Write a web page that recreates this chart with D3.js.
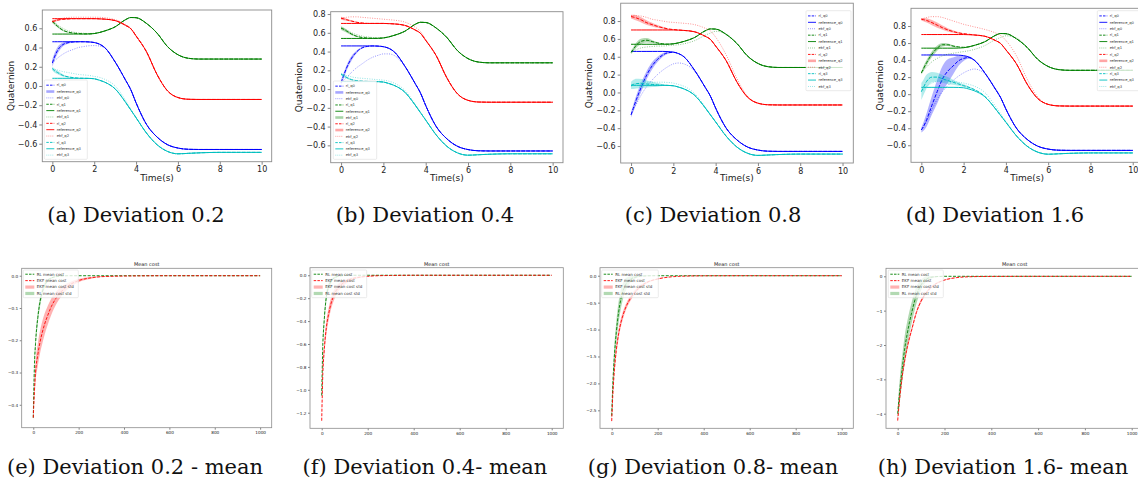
<!DOCTYPE html>
<html>
<head>
<meta charset="utf-8">
<script src="https://cdn.jsdelivr.net/npm/d3@7"></script>
<style>
  body { margin: 0; background: #fff; }
  svg { display: block; }
</style>
</head>
<body>
<svg id="fig" width="1138" height="481"></svg>
<script>
// ---------- Quaternion tracking data (time in seconds) ----------
const timeGrid = [0, 0.1, 0.25, 0.5, 0.75, 1, 1.25, 1.5, 1.75, 2, 2.25, 2.5, 3, 3.5, 3.75, 4, 4.5, 5, 5.5, 6, 6.5, 7, 8, 9, 10];

// reference attitude (same for every deviation level)
const refQ0 = [.46,.46,.46,.46,.46,.46,.46,.46,.458,.452,.435,.40, .25,.06,-.04,-.175,-.40,-.53,-.61,-.645,-.658,-.66,-.66,-.66,-.66];
const refQ1 = [.54,.54,.54,.54,.54,.54,.54,.54,.541,.545,.556,.572, .615,.69,.712,.71,.65,.55,.41,.325,.288,.28,.28,.28,.28];
const refQ2 = [.70,.70,.70,.70,.70,.70,.70,.70,.70,.70,.698,.695, .68,.63,.595,.52,.355,.12,-.05,-.12,-.138,-.14,-.14,-.14,-.14];
const refQ3 = [.08,.08,.08,.08,.08,.08,.08,.08,.079,.075,.06,.04, -.03,-.17,-.25,-.33,-.49,-.61,-.68,-.705,-.70,-.695,-.69,-.69,-.69];

// deviation 0.2
const rlQ0Dev02  = [.24,.30,.37,.43,.45,.458,.46,.46,.458,.452,.435,.40, .25,.06,-.04,-.175,-.40,-.53,-.61,-.645,-.658,-.66,-.66,-.66,-.66];
const ekfQ0Dev02 = [.24,.26,.29,.33,.36,.38,.40,.41,.418,.42,.415,.395, .25,.06,-.04,-.175,-.40,-.53,-.61,-.645,-.658,-.66,-.66,-.66,-.66];
const sdQ0Dev02  = [.04,.04,.035,.02,.01,.005,.002,0,0,0,0,0, 0,0,0,0,0,0,0,0,0,0,0,0,0];
const rlQ1Dev02  = [.67,.65,.62,.58,.56,.55,.545,.542,.541,.545,.556,.572, .615,.69,.712,.71,.65,.55,.41,.325,.288,.28,.28,.28,.28];
const ekfQ1Dev02 = [.67,.66,.635,.60,.575,.56,.552,.548,.546,.548,.556,.572, .615,.69,.712,.71,.65,.55,.41,.325,.288,.28,.28,.28,.28];
const sdQ1Dev02  = [.015,.015,.012,.008,.005,.003,0,0,0,0,0,0, 0,0,0,0,0,0,0,0,0,0,0,0,0];
const rlQ2Dev02  = [.67,.675,.685,.693,.697,.70,.70,.70,.70,.70,.698,.695, .68,.63,.595,.52,.355,.12,-.05,-.12,-.138,-.14,-.14,-.14,-.14];
const ekfQ2Dev02 = [.67,.68,.69,.705,.712,.715,.715,.715,.715,.715,.714,.71, .69,.64,.60,.525,.355,.12,-.05,-.12,-.138,-.14,-.14,-.14,-.14];
const sdQ2Dev02  = [.015,.012,.01,.005,.002,0,0,0,0,0,0,0, 0,0,0,0,0,0,0,0,0,0,0,0,0];
const rlQ3Dev02  = [.18,.16,.14,.11,.095,.087,.082,.08,.079,.075,.06,.04, -.03,-.17,-.25,-.33,-.49,-.61,-.68,-.705,-.70,-.695,-.69,-.69,-.69];
const ekfQ3Dev02 = [.18,.175,.165,.15,.14,.13,.12,.115,.11,.10,.09,.07, 0,-.15,-.24,-.325,-.49,-.61,-.68,-.705,-.70,-.695,-.69,-.69,-.69];
const sdQ3Dev02  = [.02,.02,.018,.012,.006,.003,0,0,0,0,0,0, 0,0,0,0,0,0,0,0,0,0,0,0,0];

// deviation 0.4
const rlQ0Dev04  = [.07,.13,.22,.33,.40,.44,.455,.46,.458,.452,.435,.40, .25,.06,-.04,-.175,-.40,-.53,-.61,-.645,-.658,-.66,-.66,-.66,-.66];
const ekfQ0Dev04 = [.07,.09,.12,.18,.23,.27,.31,.34,.36,.375,.375,.36, .245,.06,-.04,-.175,-.40,-.53,-.61,-.645,-.658,-.66,-.66,-.66,-.66];
const sdQ0Dev04  = [.03,.03,.03,.025,.015,.008,.004,0,0,0,0,0, 0,0,0,0,0,0,0,0,0,0,0,0,0];
const rlQ1Dev04  = [.65,.64,.62,.585,.562,.55,.545,.542,.541,.545,.556,.572, .615,.69,.712,.71,.65,.55,.41,.325,.288,.28,.28,.28,.28];
const ekfQ1Dev04 = [.65,.645,.63,.60,.58,.565,.556,.55,.548,.549,.556,.572, .615,.69,.712,.71,.65,.55,.41,.325,.288,.28,.28,.28,.28];
const sdQ1Dev04  = [.02,.02,.018,.012,.006,.003,0,0,0,0,0,0, 0,0,0,0,0,0,0,0,0,0,0,0,0];
const rlQ2Dev04  = [.755,.75,.74,.725,.712,.705,.70,.70,.70,.70,.698,.695, .68,.63,.595,.52,.355,.12,-.05,-.12,-.138,-.14,-.14,-.14,-.14];
const ekfQ2Dev04 = [.755,.76,.765,.77,.77,.765,.76,.755,.75,.745,.74,.735, .715,.66,.615,.53,.355,.12,-.05,-.12,-.138,-.14,-.14,-.14,-.14];
const sdQ2Dev04  = [.015,.015,.012,.008,.004,.002,0,0,0,0,0,0, 0,0,0,0,0,0,0,0,0,0,0,0,0];
const rlQ3Dev04  = [.16,.145,.125,.10,.09,.085,.082,.08,.079,.075,.06,.04, -.03,-.17,-.25,-.33,-.49,-.61,-.68,-.705,-.70,-.695,-.69,-.69,-.69];
const ekfQ3Dev04 = [.16,.155,.145,.13,.12,.115,.11,.105,.10,.095,.085,.065, -.01,-.16,-.245,-.33,-.49,-.61,-.68,-.705,-.70,-.695,-.69,-.69,-.69];
const sdQ3Dev04  = [.015,.015,.012,.008,.004,.002,0,0,0,0,0,0, 0,0,0,0,0,0,0,0,0,0,0,0,0];

// deviation 0.8
const rlQ0Dev08  = [-.25,-.18,-.08,.07,.20,.30,.37,.42,.445,.45,.435,.40, .25,.06,-.04,-.175,-.40,-.53,-.61,-.645,-.658,-.66,-.66,-.66,-.66];
const ekfQ0Dev08 = [-.25,-.20,-.13,-.02,.07,.14,.20,.25,.29,.32,.33,.32, .24,.055,-.04,-.175,-.40,-.53,-.61,-.645,-.658,-.66,-.66,-.66,-.66];
const sdQ0Dev08  = [.03,.04,.05,.05,.045,.04,.03,.02,.01,.005,0,0, 0,0,0,0,0,0,0,0,0,0,0,0,0];
const rlQ1Dev08  = [.45,.48,.53,.575,.585,.57,.555,.545,.541,.545,.556,.572, .615,.69,.712,.71,.65,.55,.41,.325,.288,.28,.28,.28,.28];
const ekfQ1Dev08 = [.45,.46,.48,.50,.51,.515,.52,.52,.525,.53,.535,.545, .58,.64,.665,.685,.655,.55,.41,.325,.288,.28,.28,.28,.28];
const sdQ1Dev08  = [.02,.025,.03,.03,.025,.015,.008,.004,0,0,0,0, 0,0,0,0,0,0,0,0,0,0,0,0,0];
const rlQ2Dev08  = [.85,.845,.835,.81,.78,.76,.74,.725,.712,.705,.70,.695, .68,.63,.595,.52,.355,.12,-.05,-.12,-.138,-.14,-.14,-.14,-.14];
const ekfQ2Dev08 = [.86,.86,.86,.855,.84,.82,.81,.80,.79,.785,.78,.775, .76,.72,.69,.62,.42,.16,-.04,-.12,-.138,-.14,-.14,-.14,-.14];
const sdQ2Dev08  = [.02,.025,.03,.03,.025,.02,.015,.01,.006,.003,0,0, 0,0,0,0,0,0,0,0,0,0,0,0,0];
const rlQ3Dev08  = [.08,.09,.10,.10,.095,.09,.085,.082,.079,.075,.06,.04, -.03,-.17,-.25,-.33,-.49,-.61,-.68,-.705,-.70,-.695,-.69,-.69,-.69];
const ekfQ3Dev08 = [.07,.08,.095,.11,.115,.115,.115,.115,.112,.105,.09,.07, -.01,-.16,-.245,-.33,-.49,-.61,-.68,-.705,-.70,-.695,-.69,-.69,-.69];
const sdQ3Dev08  = [.04,.05,.055,.05,.04,.03,.02,.01,.005,0,0,0, 0,0,0,0,0,0,0,0,0,0,0,0,0];

// deviation 1.6
const rlQ0Dev16  = [-.42,-.38,-.30,-.13,.03,.18,.27,.33,.39,.42,.43,.40, .25,.06,-.04,-.175,-.40,-.53,-.61,-.645,-.658,-.66,-.66,-.66,-.66];
const ekfQ0Dev16 = [-.42,-.38,-.32,-.18,-.06,.03,.10,.16,.21,.25,.28,.295, .24,.07,-.035,-.175,-.40,-.53,-.61,-.645,-.658,-.66,-.66,-.66,-.66];
const sdQ0Dev16  = [.03,.05,.08,.11,.14,.15,.14,.10,.06,.03,.015,.005, 0,0,0,0,0,0,0,0,0,0,0,0,0];
const rlQ1Dev16  = [.25,.30,.37,.47,.54,.58,.58,.565,.555,.55,.556,.572, .615,.69,.712,.71,.65,.55,.41,.325,.288,.28,.28,.28,.28];
const ekfQ1Dev16 = [.25,.28,.32,.38,.42,.45,.47,.48,.49,.50,.51,.525, .57,.64,.665,.685,.66,.55,.41,.325,.288,.28,.28,.28,.28];
const sdQ1Dev16  = [.02,.03,.035,.035,.03,.02,.015,.01,.005,0,0,0, 0,0,0,0,0,0,0,0,0,0,0,0,0];
const rlQ2Dev16  = [.88,.875,.865,.84,.81,.78,.755,.735,.72,.71,.703,.695, .68,.63,.595,.52,.355,.12,-.05,-.12,-.138,-.14,-.14,-.14,-.14];
const ekfQ2Dev16 = [.88,.89,.90,.91,.91,.90,.88,.86,.84,.82,.805,.79, .76,.72,.69,.63,.45,.18,-.03,-.12,-.138,-.14,-.14,-.14,-.14];
const sdQ2Dev16  = [.015,.02,.025,.03,.03,.025,.02,.015,.01,.005,0,0, 0,0,0,0,0,0,0,0,0,0,0,0,0];
const rlQ3Dev16  = [.03,.08,.15,.20,.20,.18,.16,.14,.12,.10,.08,.055, -.025,-.17,-.25,-.33,-.49,-.61,-.68,-.705,-.70,-.695,-.69,-.69,-.69];
const ekfQ3Dev16 = [.03,.05,.09,.13,.15,.155,.155,.15,.14,.13,.115,.095, .02,-.14,-.23,-.32,-.49,-.61,-.68,-.705,-.70,-.695,-.69,-.69,-.69];
const sdQ3Dev16  = [.10,.09,.08,.06,.05,.045,.04,.03,.02,.015,.01,.005, 0,0,0,0,0,0,0,0,0,0,0,0,0];

const timeTicks = [0, 2, 4, 6, 8, 10];
const quatTicksA = [-0.6, -0.4, -0.2, 0, 0.2, 0.4, 0.6];
const quatTicksB = [-0.6, -0.4, -0.2, 0, 0.2, 0.4, 0.6, 0.8];
const quatLegendLabels = ["rl_q0","reference_q0","ekf_q0","rl_q1","reference_q1","ekf_q1","rl_q2","reference_q2","ekf_q2","rl_q3","reference_q3","ekf_q3"];

// ---------- Mean cost over training episodes ----------
const episodes = [0, 5, 10, 20, 30, 40, 50, 60, 80, 100, 125, 150, 200, 250, 300, 400, 600, 800, 1000];

const ekfCostDev02   = [-.44,-.36,-.30,-.245,-.205,-.175,-.15,-.13,-.095,-.07,-.048,-.033,-.015,-.007,-.003,-.001,0,0,0];
const ekfCostSdDev02 = [.01,.02,.03,.035,.035,.035,.033,.03,.025,.02,.015,.01,.005,.003,.001,0,0,0,0];
const rlCostDev02    = [-.44,-.28,-.21,-.13,-.08,-.05,-.03,-.018,-.007,-.003,-.001,0,0,0,0,0,0,0,0];
const rlCostSdDev02  = [.01,.02,.02,.018,.015,.012,.008,.005,.002,.001,0,0,0,0,0,0,0,0,0];

const ekfCostDev04   = [-1.27,-.85,-.68,-.46,-.34,-.25,-.19,-.145,-.09,-.06,-.035,-.022,-.009,-.004,-.002,0,0,0,0];
const ekfCostSdDev04 = [.02,.05,.06,.06,.055,.05,.045,.04,.03,.02,.012,.008,.003,.001,0,0,0,0,0];
const rlCostDev04    = [-1.05,-.6,-.42,-.19,-.10,-.055,-.03,-.017,-.006,-.002,0,0,0,0,0,0,0,0,0];
const rlCostSdDev04  = [.03,.05,.05,.04,.03,.02,.012,.008,.003,.001,0,0,0,0,0,0,0,0,0];

const ekfCostDev08   = [-2.7,-2.2,-1.85,-1.38,-1.08,-.87,-.72,-.6,-.43,-.31,-.2,-.13,-.06,-.025,-.01,-.002,0,0,0];
const ekfCostSdDev08 = [.05,.08,.1,.1,.09,.08,.07,.06,.05,.04,.03,.02,.01,.005,.002,0,0,0,0];
const rlCostDev08    = [-2.6,-2.0,-1.6,-1.05,-.68,-.43,-.27,-.17,-.07,-.03,-.01,-.003,0,0,0,0,0,0,0];
const rlCostSdDev08  = [.1,.15,.18,.2,.2,.18,.15,.12,.06,.03,.01,.005,0,0,0,0,0,0,0];

const ekfCostDev16   = [-4.2,-3.8,-3.45,-2.88,-2.45,-2.1,-1.8,-1.55,-1.05,-.72,-.45,-.28,-.11,-.04,-.015,-.003,0,0,0];
const ekfCostSdDev16 = [.05,.08,.1,.1,.1,.09,.08,.07,.06,.05,.04,.03,.015,.006,.002,0,0,0,0];
const rlCostDev16    = [-4.0,-3.6,-3.25,-2.65,-2.1,-1.7,-1.35,-1.05,-.55,-.25,-.07,-.02,0,0,0,0,0,0,0];
const rlCostSdDev16  = [.15,.3,.35,.38,.38,.36,.33,.3,.25,.15,.07,.03,0,0,0,0,0,0,0];

const episodeTicks = [0, 200, 400, 600, 800, 1000];
const costLegendLabels = ["RL mean cost", "EKF mean cost", "EKF mean cost std", "RL mean cost std"];

const captionsTop = ["(a) Deviation 0.2", "(b) Deviation 0.4", "(c) Deviation 0.8", "(d) Deviation 1.6"];
const captionsBottom = ["(e) Deviation 0.2 - mean", "(f) Deviation 0.4- mean", "(g) Deviation 0.8- mean", "(h) Deviation 1.6- mean"];

// ---------- drawing ----------
const svg = d3.select("#fig");
const FONT = "DejaVu Sans, sans-serif";
const qColors = ["#0000ff", "#008000", "#ff0000", "#00bfbf"];
const frameColor = "#8c8c8c";
let clipCount = 0;

function addClip(x0, y0, x1, y1) {
  const id = "clip" + (clipCount++);
  svg.append("clipPath").attr("id", id).append("rect")
    .attr("x", x0).attr("y", y0).attr("width", x1 - x0).attr("height", y1 - y0);
  return `url(#${id})`;
}

function styleAxis(sel, fs) {
  sel.select(".domain").remove();
  sel.selectAll(".tick line").attr("stroke", "#333").attr("stroke-width", 0.6);
  sel.selectAll(".tick text").attr("fill", "#222").style("font-family", FONT).style("font-size", fs + "px");
}

function drawQuatPanel(p) {
  const [x0, y0, x1, y1] = p.box;
  const x = d3.scaleLinear().domain(p.xDomain).range([x0, x1]);
  const y = d3.scaleLinear().domain(p.yDomain).range([y1, y0]);
  const g = svg.append("g");
  const plot = g.append("g").attr("clip-path", addClip(x0, y0, x1, y1));

  const line = d3.line().x((d, i) => x(timeGrid[i])).y(d => y(d)).curve(d3.curveMonotoneX);
  const area = d3.area().x((d, i) => x(timeGrid[i]))
    .y0((d, i) => y(d.m - d.s)).y1((d, i) => y(d.m + d.s)).curve(d3.curveMonotoneX);

  p.series.forEach((s, k) => {
    const c = qColors[k];
    const band = s.rl.map((m, i) => ({ m, s: s.sd[i] }));
    plot.append("path").attr("d", area(band)).attr("fill", c).attr("fill-opacity", 0.3);
    plot.append("path").attr("d", line(s.ekf)).attr("fill", "none").attr("stroke", c)
      .attr("stroke-width", 0.8).attr("stroke-opacity", 0.55).attr("stroke-dasharray", "1,1.4");
    plot.append("path").attr("d", line(s.ref)).attr("fill", "none").attr("stroke", c)
      .attr("stroke-width", 1.0);
    plot.append("path").attr("d", line(s.rl)).attr("fill", "none").attr("stroke", c)
      .attr("stroke-width", 1.0).attr("stroke-dasharray", "3.5,1.5");
  });

  const ax = g.append("g").attr("transform", `translate(0,${y1})`)
    .call(d3.axisBottom(x).tickValues(timeTicks).tickSize(3).tickPadding(2).tickFormat(d3.format("d")));
  styleAxis(ax, 8);
  const ay = g.append("g").attr("transform", `translate(${x0},0)`)
    .call(d3.axisLeft(y).tickValues(p.yTicks).tickSize(3).tickPadding(2).tickFormat(d3.format(".1f")));
  styleAxis(ay, 8);

  g.append("rect").attr("x", x0).attr("y", y0).attr("width", x1 - x0).attr("height", y1 - y0)
    .attr("fill", "none").attr("stroke", frameColor).attr("stroke-width", 0.9);

  g.append("text").attr("x", (x(0) + x(10)) / 2).attr("y", 181)
    .attr("text-anchor", "middle").style("font-family", FONT).style("font-size", "9px").attr("fill", "#222")
    .text("Time(s)");
  g.append("text").attr("transform", `translate(${p.ylabelX},${(y0 + y1) / 2}) rotate(-90)`)
    .attr("text-anchor", "middle").style("font-family", FONT).style("font-size", "9px").attr("fill", "#222")
    .text("Quaternion");

  // legend
  const L = p.legend;
  const lg = g.append("g");
  lg.append("rect").attr("x", L.x).attr("y", L.y).attr("width", L.w).attr("height", L.h)
    .attr("rx", 1).attr("fill", "#fff").attr("fill-opacity", 0.8).attr("stroke", "#d6d6d6").attr("stroke-width", 0.5);
  const step = (L.h - 3) / quatLegendLabels.length;
  quatLegendLabels.forEach((lab, i) => {
    const cy = L.y + 2 + step * (i + 0.5);
    const c = qColors[Math.floor(i / 3)];
    const kind = i % 3;
    const h = lg.append("line").attr("x1", L.x + 2).attr("x2", L.x + 10).attr("y1", cy).attr("y2", cy).attr("stroke", c);
    if (p.thickEntries.includes(lab)) {
      h.attr("stroke-width", 2.6).attr("stroke-opacity", 0.35);
    } else if (kind === 0) {
      h.attr("stroke-width", 0.9).attr("stroke-dasharray", "2.5,1.2");
    } else if (kind === 1) {
      h.attr("stroke-width", 0.9);
    } else {
      h.attr("stroke-width", 0.7).attr("stroke-opacity", 0.55).attr("stroke-dasharray", "1,1");
    }
    lg.append("text").attr("x", L.x + 12.5).attr("y", cy + 1.3)
      .style("font-family", FONT).style("font-size", "3.7px").attr("fill", "#333").text(lab);
  });
}

function drawCostPanel(p) {
  const [x0, y0, x1, y1] = p.box;
  const x = d3.scaleLinear().domain(p.xDomain).range([x0, x1]);
  const y = d3.scaleLinear().domain(p.yDomain).range([y1, y0]);
  const g = svg.append("g");
  const plot = g.append("g").attr("clip-path", addClip(x0, y0, x1, y1));

  const line = d3.line().x((d, i) => x(episodes[i])).y(d => y(d)).curve(d3.curveMonotoneX);
  const area = d3.area().x((d, i) => x(episodes[i]))
    .y0(d => y(d.m - d.s)).y1(d => y(d.m + d.s)).curve(d3.curveMonotoneX);

  plot.append("path").attr("d", area(p.ekf.map((m, i) => ({ m, s: p.ekfSd[i] }))))
    .attr("fill", "#ff0000").attr("fill-opacity", 0.3);
  plot.append("path").attr("d", area(p.rl.map((m, i) => ({ m, s: p.rlSd[i] }))))
    .attr("fill", "#008000").attr("fill-opacity", 0.3);
  plot.append("path").attr("d", line(p.rl)).attr("fill", "none").attr("stroke", "#008000")
    .attr("stroke-width", 0.9).attr("stroke-dasharray", "3,1.5");
  plot.append("path").attr("d", line(p.ekf)).attr("fill", "none").attr("stroke", "#ff0000")
    .attr("stroke-width", 0.9).attr("stroke-dasharray", "3,1.5");

  const ax = g.append("g").attr("transform", `translate(0,${y1})`)
    .call(d3.axisBottom(x).tickValues(episodeTicks).tickSize(2).tickPadding(1.5).tickFormat(d3.format("d")));
  styleAxis(ax, 4.2);
  const ay = g.append("g").attr("transform", `translate(${x0},0)`)
    .call(d3.axisLeft(y).tickValues(p.yTicks).tickSize(2).tickPadding(1.5).tickFormat(d3.format(p.yFormat)));
  styleAxis(ay, 4.2);

  g.append("rect").attr("x", x0).attr("y", y0).attr("width", x1 - x0).attr("height", y1 - y0)
    .attr("fill", "none").attr("stroke", frameColor).attr("stroke-width", 0.8);

  g.append("text").attr("x", (x(0) + x(1000)) / 2).attr("y", 265.6).attr("text-anchor", "middle")
    .style("font-family", FONT).style("font-size", "5px").attr("fill", "#222").text("Mean cost");

  const L = p.legend;
  const lg = g.append("g");
  lg.append("rect").attr("x", L.x).attr("y", L.y).attr("width", L.w).attr("height", L.h)
    .attr("rx", 1).attr("fill", "#fff").attr("fill-opacity", 0.8).attr("stroke", "#d6d6d6").attr("stroke-width", 0.5);
  const step = (L.h - 2) / costLegendLabels.length;
  const cols = ["#008000", "#ff0000", "#ff0000", "#008000"];
  costLegendLabels.forEach((lab, i) => {
    const cy = L.y + 1 + step * (i + 0.5);
    if (i < 2) {
      lg.append("line").attr("x1", L.x + 2).attr("x2", L.x + 11).attr("y1", cy).attr("y2", cy)
        .attr("stroke", cols[i]).attr("stroke-width", 0.9).attr("stroke-dasharray", "2.5,1.2");
    } else {
      lg.append("rect").attr("x", L.x + 2).attr("y", cy - 1.6).attr("width", 9).attr("height", 3.2)
        .attr("fill", cols[i]).attr("fill-opacity", 0.3);
    }
    lg.append("text").attr("x", L.x + 13.5).attr("y", cy + 1.4)
      .style("font-family", FONT).style("font-size", "4px").attr("fill", "#333").text(lab);
  });
}

const quatPanels = [
  { box: [42.3, 10, 271.7, 161.7], xDomain: [-0.48, 10.48], yDomain: [-0.787, 0.79], yTicks: quatTicksA, ylabelX: 14,
    legend: { x: 44.3, y: 80, w: 43, h: 79.3 }, thickEntries: ["reference_q0"],
    series: [
      { rl: rlQ0Dev02, ref: refQ0, ekf: ekfQ0Dev02, sd: sdQ0Dev02 },
      { rl: rlQ1Dev02, ref: refQ1, ekf: ekfQ1Dev02, sd: sdQ1Dev02 },
      { rl: rlQ2Dev02, ref: refQ2, ekf: ekfQ2Dev02, sd: sdQ2Dev02 },
      { rl: rlQ3Dev02, ref: refQ3, ekf: ekfQ3Dev02, sd: sdQ3Dev02 } ] },
  { box: [330.7, 11.7, 563, 162.7], xDomain: [-0.49, 10.49], yDomain: [-0.785, 0.825], yTicks: quatTicksB, ylabelX: 302,
    legend: { x: 333.3, y: 81, w: 43.4, h: 78.3 }, thickEntries: ["reference_q0", "ekf_q1", "reference_q2"],
    series: [
      { rl: rlQ0Dev04, ref: refQ0, ekf: ekfQ0Dev04, sd: sdQ0Dev04 },
      { rl: rlQ1Dev04, ref: refQ1, ekf: ekfQ1Dev04, sd: sdQ1Dev04 },
      { rl: rlQ2Dev04, ref: refQ2, ekf: ekfQ2Dev04, sd: sdQ2Dev04 },
      { rl: rlQ3Dev04, ref: refQ3, ekf: ekfQ3Dev04, sd: sdQ3Dev04 } ] },
  { box: [620.7, 3.2, 853.3, 163], xDomain: [-0.49, 10.51], yDomain: [-0.79, 1.0], yTicks: quatTicksB, ylabelX: 592,
    legend: { x: 806, y: 10.7, w: 45, h: 80 }, thickEntries: ["reference_q2"],
    series: [
      { rl: rlQ0Dev08, ref: refQ0, ekf: ekfQ0Dev08, sd: sdQ0Dev08 },
      { rl: rlQ1Dev08, ref: refQ1, ekf: ekfQ1Dev08, sd: sdQ1Dev08 },
      { rl: rlQ2Dev08, ref: refQ2, ekf: ekfQ2Dev08, sd: sdQ2Dev08 },
      { rl: rlQ3Dev08, ref: refQ3, ekf: ekfQ3Dev08, sd: sdQ3Dev08 } ] },
  { box: [911, 8.3, 1143.3, 162.3], xDomain: [-0.49, 10.5], yDomain: [-0.8, 1.008], yTicks: quatTicksB, ylabelX: 883,
    legend: { x: 1097.3, y: 10.7, w: 45, h: 80 }, thickEntries: ["reference_q2"],
    series: [
      { rl: rlQ0Dev16, ref: refQ0, ekf: ekfQ0Dev16, sd: sdQ0Dev16 },
      { rl: rlQ1Dev16, ref: refQ1, ekf: ekfQ1Dev16, sd: sdQ1Dev16 },
      { rl: rlQ2Dev16, ref: refQ2, ekf: ekfQ2Dev16, sd: sdQ2Dev16 },
      { rl: rlQ3Dev16, ref: refQ3, ekf: ekfQ3Dev16, sd: sdQ3Dev16 } ] }
];

const costPanels = [
  { box: [21.7, 268.3, 271.7, 427.7], xDomain: [-51, 1051], yDomain: [-0.471, 0.023],
    yTicks: [0, -0.1, -0.2, -0.3, -0.4], yFormat: ".1f", legend: { x: 23.3, y: 270, w: 55, h: 27.7 },
    rl: rlCostDev02, rlSd: rlCostSdDev02, ekf: ekfCostDev02, ekfSd: ekfCostSdDev02 },
  { box: [310, 267.7, 563.3, 428.3], xDomain: [-50.9, 1050.4], yDomain: [-1.336, 0.066],
    yTicks: [0, -0.2, -0.4, -0.6, -0.8, -1.0, -1.2], yFormat: ".1f", legend: { x: 311.7, y: 270, w: 55, h: 27.7 },
    rl: rlCostDev04, rlSd: rlCostSdDev04, ekf: ekfCostDev04, ekfSd: ekfCostSdDev04 },
  { box: [600, 267.7, 853.3, 428.3], xDomain: [-50.9, 1050.4], yDomain: [-2.834, 0.149],
    yTicks: [0, -0.5, -1.0, -1.5, -2.0, -2.5], yFormat: ".1f", legend: { x: 601.7, y: 270, w: 56.6, h: 27.7 },
    rl: rlCostDev08, rlSd: rlCostSdDev08, ekf: ekfCostDev08, ekfSd: ekfCostSdDev08 },
  { box: [886, 268.3, 1143.4, 428.3], xDomain: [-50, 1050], yDomain: [-4.425, 0.233],
    yTicks: [0, -1, -2, -3, -4], yFormat: "d", legend: { x: 888.3, y: 270, w: 55, h: 27.7 },
    rl: rlCostDev16, rlSd: rlCostSdDev16, ekf: ekfCostDev16, ekfSd: ekfCostSdDev16 }
];

quatPanels.forEach(drawQuatPanel);
costPanels.forEach(drawCostPanel);

// sub-figure captions
const capTopX = [136, 425, 713, 995];
const capBottomX = [135, 425, 713, 1003];
captionsTop.forEach((t, i) => {
  svg.append("text").attr("x", capTopX[i]).attr("y", 222).attr("text-anchor", "middle")
    .style("font-family", "DejaVu Serif, serif").style("font-size", "21px").attr("fill", "#111").text(t);
});
captionsBottom.forEach((t, i) => {
  svg.append("text").attr("x", capBottomX[i]).attr("y", 474).attr("text-anchor", "middle")
    .style("font-family", "DejaVu Serif, serif").style("font-size", "21px").attr("fill", "#111").text(t);
});
</script>
</body>
</html>
